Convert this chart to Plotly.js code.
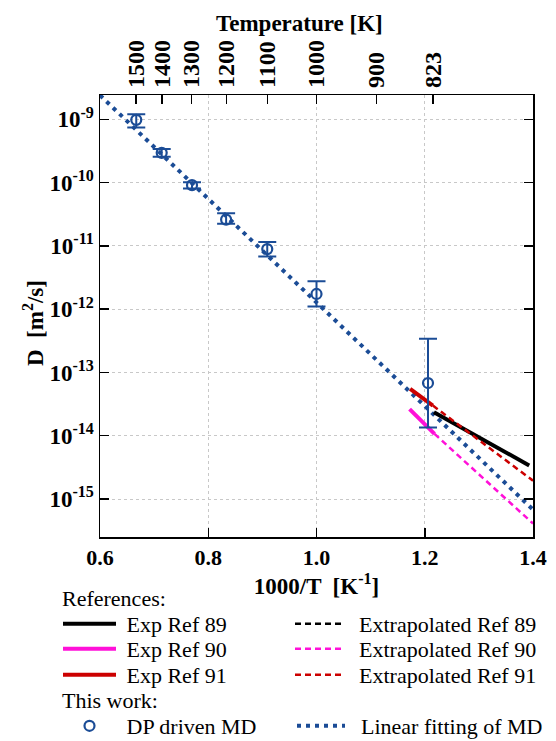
<!DOCTYPE html>
<html>
<head>
<meta charset="utf-8">
<script src="https://cdn.plot.ly/plotly-3.0.1.min.js"></script>
<style>html,body{margin:0;padding:0;background:#fff;}#chart{width:556px;height:741px;}</style>
</head>
<body>
<div id="chart"></div>
<script>
// ---- data ----
const mdInvT   = [0.667, 0.714, 0.770, 0.833, 0.909, 1.000, 1.206];
const mdD      = [9.8e-10, 2.95e-10, 9.1e-11, 2.6e-11, 8.9e-12, 1.74e-12, 6.8e-14];
const mdDUpper = [1.2e-9, 3.4e-10, 1.01e-10, 3.27e-11, 1.15e-11, 2.75e-12, 3.4e-13];
const mdDLower = [7.4e-10, 2.57e-10, 8.1e-11, 2.24e-11, 6.8e-12, 1.1e-12, 1.35e-14];

const fitInvT = [0.6, 1.4];
const fitD    = [2.4e-9, 6.8e-16];

const ref89InvT = [1.217, 1.393];
const ref89D    = [2.34e-14, 3.4e-15];

const ref90InvT = [1.172, 1.218];
const ref90D    = [2.63e-14, 1.07e-14];
const ref90ExtInvT = [1.218, 1.4];
const ref90ExtD    = [1.07e-14, 4.1e-16];

const ref91InvT = [1.173, 1.215];
const ref91D    = [5.5e-14, 3.0e-14];
const ref91ExtInvT = [1.215, 1.4];
const ref91ExtD    = [3.0e-14, 1.95e-15];

const bottomTicks = [0.6, 0.8, 1.0, 1.2, 1.4];
const tempTicks = [1500, 1400, 1300, 1200, 1100, 1000, 900, 823];
const yExps = [-9, -10, -11, -12, -13, -14, -15];

// ---- styling ----
const BLUE = '#1b4c96', MAG = '#ff10d8', RED = '#cc0000';
const SERIF = 'Liberation Serif, Times New Roman, serif';
const NB = '\u00a0';

const traces = [
  {x: fitInvT, y: fitD, mode: 'lines', name: NB + NB + 'Linear fitting of MD', legend: 'legend8',
   line: {color: BLUE, width: 4, dash: '4px,5px'}},
  {x: ref89InvT, y: ref89D, mode: 'lines', name: NB + 'Exp Ref 89', legend: 'legend',
   line: {color: '#000', width: 4}},
  {x: ref90InvT, y: ref90D, mode: 'lines', name: NB + 'Exp Ref 90', legend: 'legend2',
   line: {color: MAG, width: 4}},
  {x: ref91InvT, y: ref91D, mode: 'lines', name: NB + 'Exp Ref 91', legend: 'legend3',
   line: {color: RED, width: 4}},
  {x: [null], y: [null], mode: 'lines', name: NB + NB + 'Extrapolated Ref 89', legend: 'legend4',
   line: {color: '#000', width: 2.5, dash: '6px,4px'}},
  {x: ref90ExtInvT, y: ref90ExtD, mode: 'lines', name: NB + NB + 'Extrapolated Ref 90', legend: 'legend5',
   line: {color: MAG, width: 2.5, dash: '6px,4px'}},
  {x: ref91ExtInvT, y: ref91ExtD, mode: 'lines', name: NB + NB + 'Extrapolated Ref 91', legend: 'legend6',
   line: {color: RED, width: 2.5, dash: '6px,4px'}},
  {x: mdInvT, y: mdD, mode: 'markers', name: NB + 'DP driven MD', legend: 'legend7',
   marker: {symbol: 'circle-open', size: 10, color: BLUE, line: {width: 2.2, color: BLUE}},
   error_y: {type: 'data', symmetric: false,
     array: mdDUpper.map((u, i) => u - mdD[i]),
     arrayminus: mdDLower.map((l, i) => mdD[i] - l),
     color: BLUE, thickness: 2, width: 9}}
];

function leg(xpx, ypx, w) {
  return {xref: 'container', yref: 'container', xanchor: 'left', yanchor: 'middle',
    x: xpx / 556, y: 1 - ypx / 741,
    bgcolor: 'rgba(0,0,0,0)', borderwidth: 0, itemwidth: w, tracegroupgap: 0,
    font: {family: SERIF, size: 22, color: '#000'}, itemclick: false, itemdoubleclick: false};
}

// plot-area geometry (px) used to place the free text in paper coordinates
const PL = 100, PR = 533, PT = 95, PB = 537;
const px2paperX = px => (px - PL) / (PR - PL);
const px2paperY = py => (PB - py) / (PB - PT);

const layout = {
  width: 556, height: 741,
  margin: {l: PL, r: 556 - PR, t: PT, b: 741 - PB, autoexpand: false},
  paper_bgcolor: '#fff', plot_bgcolor: '#fff',
  font: {family: SERIF, color: '#000'},
  showlegend: true,
  xaxis: {
    range: [0.6, 1.4], tickvals: bottomTicks, ticktext: bottomTicks.map(v => v.toFixed(1)),
    ticks: 'inside', ticklen: 9, tickwidth: 1.5, tickcolor: '#000',
    showline: true, linecolor: '#000', linewidth: 1.5, mirror: true,
    showgrid: true, gridcolor: '#c8c8c8', griddash: 'dot', gridwidth: 1,
    zeroline: false, tickangle: 0,
    tickfont: {family: SERIF, size: 22, weight: 'bold'},
    title: {text: '1000/T  [K<sup>-1</sup>]', font: {family: SERIF, size: 23, weight: 'bold'}, standoff: 0}
  },
  xaxis2: {
    overlaying: 'x', side: 'top', range: [0.6, 1.4],
    tickvals: tempTicks.map(t => 1000 / t), ticktext: tempTicks.map(String),
    tickangle: -90, ticks: 'inside', ticklen: 9, tickwidth: 1.5, tickcolor: '#000',
    showline: false, showgrid: false, zeroline: false, ticklabelstandoff: 6,
    tickfont: {family: SERIF, size: 24, weight: 'bold'}
  },
  yaxis: {
    type: 'log', range: [-15.6, -8.616],
    tickvals: yExps.map(e => Math.pow(10, e)),
    ticktext: yExps.map(e => '10<sup>' + e + '</sup>'),
    ticks: 'inside', ticklen: 9, tickwidth: 1.5, tickcolor: '#000',
    showline: true, linecolor: '#000', linewidth: 1.5, mirror: 'ticks',
    showgrid: true, gridcolor: '#c8c8c8', griddash: 'dot', gridwidth: 1,
    zeroline: false,
    tickfont: {family: SERIF, size: 23, weight: 'bold'}
  },
  legend:  leg(58, 624, 53),
  legend2: leg(58, 649, 53),
  legend3: leg(58, 675, 53),
  legend7: leg(58, 726, 53),
  legend4: leg(290, 624, 48),
  legend5: leg(290, 649, 48),
  legend6: leg(290, 675, 48),
  legend8: leg(292, 726, 48),
  annotations: [
    // top (temperature) axis title
    {xref: 'paper', yref: 'paper', x: px2paperX(299), y: px2paperY(24), xanchor: 'center', yanchor: 'middle',
     text: '<b>Temperature [K]</b>', showarrow: false,
     font: {family: SERIF, size: 23, color: '#000'}},
    // y-axis title
    {xref: 'paper', yref: 'paper', x: px2paperX(33), y: px2paperY(323), xanchor: 'center', yanchor: 'middle',
     textangle: -90, text: '<b>D  [m<sup>2</sup>/s]</b>', showarrow: false,
     font: {family: SERIF, size: 23, color: '#000'}},
    {xref: 'paper', yref: 'paper', x: px2paperX(60), y: px2paperY(598), xanchor: 'left', yanchor: 'middle',
     text: 'References:', showarrow: false, font: {family: SERIF, size: 22, color: '#000'}},
    {xref: 'paper', yref: 'paper', x: px2paperX(60), y: px2paperY(700), xanchor: 'left', yanchor: 'middle',
     text: 'This work:', showarrow: false, font: {family: SERIF, size: 22, color: '#000'}}
  ]
};

// invisible trace so the top temperature axis is drawn
traces.push({x: [1.0], y: [1e-12], xaxis: 'x2', mode: 'markers', marker: {opacity: 0}, showlegend: false, hoverinfo: 'skip'});

Plotly.newPlot('chart', traces, layout, {displayModeBar: false, staticPlot: true});
</script>
</body>
</html>
